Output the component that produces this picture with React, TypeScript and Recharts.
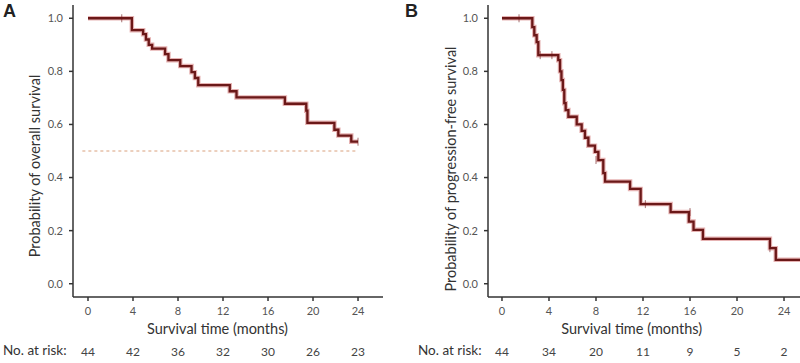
import React from 'react';
import { ComposedChart, Line, XAxis, YAxis } from 'recharts';

const TIME_TICKS = [0, 4, 8, 12, 16, 20, 24];
const Y_TICKS = [0, 0.2, 0.4, 0.6, 0.8, 1.0];
const OS_RISK = [44, 42, 36, 32, 30, 26, 23];
const PFS_RISK = [44, 34, 20, 11, 9, 5, 2];

const OS_TIME = [0, 3.9, 4.9, 5.15, 5.4, 5.7, 6.85, 7.15, 8.2, 9.2, 9.5, 9.8, 12.6, 13.2, 17.5, 19.4, 19.5, 21.9, 22.25, 23.4, 24.0];
const OS_SURV = [1.0, 0.955, 0.94, 0.92, 0.9, 0.886, 0.865, 0.842, 0.82, 0.797, 0.775, 0.748, 0.725, 0.702, 0.678, 0.652, 0.606, 0.58, 0.558, 0.535, 0.535];
const OS_CENSOR_TIME = [3.0, 24.0];
const OS_CENSOR_SURV = [1.0, 0.535];

const PFS_TIME = [0, 2.58, 2.75, 2.95, 3.09, 4.79, 4.94, 5.06, 5.18, 5.3, 5.42, 5.65, 6.36, 6.78, 7.06, 7.35, 7.91, 8.2, 8.62, 8.77, 10.9, 11.8, 14.35, 15.9, 16.3, 17.1, 22.8, 23.3, 25.4];
const PFS_SURV = [1.0, 0.967, 0.936, 0.91, 0.861, 0.842, 0.8, 0.767, 0.73, 0.68, 0.654, 0.629, 0.6, 0.576, 0.55, 0.52, 0.497, 0.466, 0.417, 0.385, 0.357, 0.3, 0.27, 0.234, 0.203, 0.169, 0.134, 0.09, 0.09];
const PFS_CENSOR_TIME = [1.45, 3.25, 4.25, 8.0, 12.2, 16.0, 22.8];
const PFS_CENSOR_SURV = [1.0, 0.861, 0.861, 0.466, 0.3, 0.27, 0.134];

const MEDIAN_TIME = [-0.5, 24.0];
const MEDIAN_SURV = [0.5, 0.5];

const FONT = "Lato, 'Open Sans', sans-serif";
const DARK = '#6b1818';
const HALO = '#e6b3b3';
const AXIS = '#333333';

const zip = (ts: number[], ss: number[]) => ts.map((t, i) => ({ t, s: ss[i] }));

function CensorDot(props: any) {
  const { cx, cy, index } = props;
  if (cx == null || cy == null) return <g key={`c-${index}`} />;
  return (
    <g key={`c-${index}`}>
      <line x1={cx} x2={cx} y1={cy - 4} y2={cy + 4} stroke={DARK} strokeWidth={1} opacity={0.6} />
    </g>
  );
}

type PanelProps = {
  time: number[];
  surv: number[];
  cTime: number[];
  cSurv: number[];
  risk: number[];
  domain: [number, number];
  yWidth: number;
  marginRight: number;
  yTitle: string;
  yTitleDx: number;
  yTitleDy: number;
  xTitleDx: number;
  median?: boolean;
};

function Panel(p: PanelProps) {
  const curve = zip(p.time, p.surv);
  const censor = zip(p.cTime, p.cSurv);
  const median = zip(MEDIAN_TIME, MEDIAN_SURV);
  const riskMap: Record<number, number> = {};
  TIME_TICKS.forEach((t, i) => (riskMap[t] = p.risk[i]));
  return (
    <ComposedChart width={400} height={363} margin={{ top: 5, right: p.marginRight, bottom: 0, left: 0 }}>
      <XAxis
        type="number"
        dataKey="t"
        domain={p.domain}
        allowDataOverflow
        ticks={TIME_TICKS}
        height={40}
        tickSize={4}
        tickMargin={6}
        stroke={AXIS}
        strokeWidth={1.5}
        tick={{ fontSize: 11, fill: '#555', fontFamily: FONT }}
        label={{
          content: (lp: any) => {
            const vb = lp.viewBox || {};
            return (
              <text x={vb.x + vb.width / 2 + p.xTitleDx} y={vb.y + 37} textAnchor="middle" fontSize={14.5} fill="#333" fontFamily={FONT}>
                Survival time (months)
              </text>
            );
          },
        }}
      />
      <XAxis
        xAxisId="risk"
        type="number"
        dataKey="t"
        domain={p.domain}
        allowDataOverflow
        ticks={TIME_TICKS}
        height={26}
        axisLine={false}
        tickLine={false}
        tickSize={0}
        tickMargin={10}
        tickFormatter={(v: number) => String(riskMap[v] ?? '')}
        tick={{ fontSize: 12, fill: '#444', fontFamily: FONT }}
        label={{
          content: (lp: any) => {
            const vb = lp.viewBox || {};
            return (
              <text x={vb.x - 70} y={vb.y + 18} textAnchor="start" fontSize={13.5} fill="#333" fontFamily={FONT}>
                No. at risk:
              </text>
            );
          },
        }}
      />
      <YAxis
        type="number"
        domain={[-0.05, 1.05]}
        allowDataOverflow
        ticks={Y_TICKS}
        width={p.yWidth}
        tickSize={4}
        tickMargin={6}
        stroke={AXIS}
        strokeWidth={1.5}
        tickFormatter={(v: number) => v.toFixed(1)}
        tick={{ fontSize: 11, fill: '#555', fontFamily: FONT }}
        label={{
          content: (lp: any) => {
            const vb = lp.viewBox || {};
            const cx = vb.x + p.yTitleDx;
            const cy = vb.y + vb.height / 2 + p.yTitleDy;
            return (
              <text x={cx} y={cy} transform={`rotate(-90 ${cx} ${cy})`} textAnchor="middle" dominantBaseline="central" fontSize={14.5} fill="#333" fontFamily={FONT}>
                {p.yTitle}
              </text>
            );
          },
        }}
      />
      {p.median && (
        <Line data={median} dataKey="s" type="linear" stroke="#d9a07c" strokeWidth={1} strokeDasharray="3 3" dot={false} isAnimationActive={false} />
      )}
      <Line data={curve} dataKey="s" type="stepAfter" stroke={HALO} strokeWidth={4.5} dot={false} isAnimationActive={false} />
      <Line data={curve} dataKey="s" type="stepAfter" stroke={DARK} strokeWidth={2.3} dot={false} isAnimationActive={false} />
      <Line data={censor} dataKey="s" stroke="none" dot={(dp: any) => <CensorDot key={`cd-${dp.index}`} {...dp} />} isAnimationActive={false} />
    </ComposedChart>
  );
}

export default function App() {
  return (
    <div style={{ position: 'absolute', left: 0, top: 0, width: 800, height: 363, background: '#fff', overflow: 'hidden' }}>
      <div style={{ position: 'absolute', left: 0, top: 0 }}>
        <Panel
          time={OS_TIME}
          surv={OS_SURV}
          cTime={OS_CENSOR_TIME}
          cSurv={OS_CENSOR_SURV}
          risk={OS_RISK}
          domain={[-1.333, 26.22]}
          yWidth={73}
          marginRight={17}
          yTitle="Probability of overall survival"
          yTitleDx={34}
          yTitleDy={15}
          xTitleDx={-10.5}
          median
        />
      </div>
      <div style={{ position: 'absolute', left: 400, top: 0 }}>
        <Panel
          time={PFS_TIME}
          surv={PFS_SURV}
          cTime={PFS_CENSOR_TIME}
          cSurv={PFS_CENSOR_SURV}
          risk={PFS_RISK}
          domain={[-1.19, 25.36]}
          yWidth={88}
          marginRight={0}
          yTitle="Probability of progression-free survival"
          yTitleDx={50}
          yTitleDy={18}
          xTitleDx={-12.3}
        />
      </div>
      <div style={{ position: 'absolute', left: 3, top: 1, fontFamily: "'Liberation Sans', Arial, sans-serif", fontWeight: 'bold', fontSize: 18, color: '#222' }}>A</div>
      <div style={{ position: 'absolute', left: 405, top: 1, fontFamily: "'Liberation Sans', Arial, sans-serif", fontWeight: 'bold', fontSize: 18, color: '#222' }}>B</div>
    </div>
  );
}
